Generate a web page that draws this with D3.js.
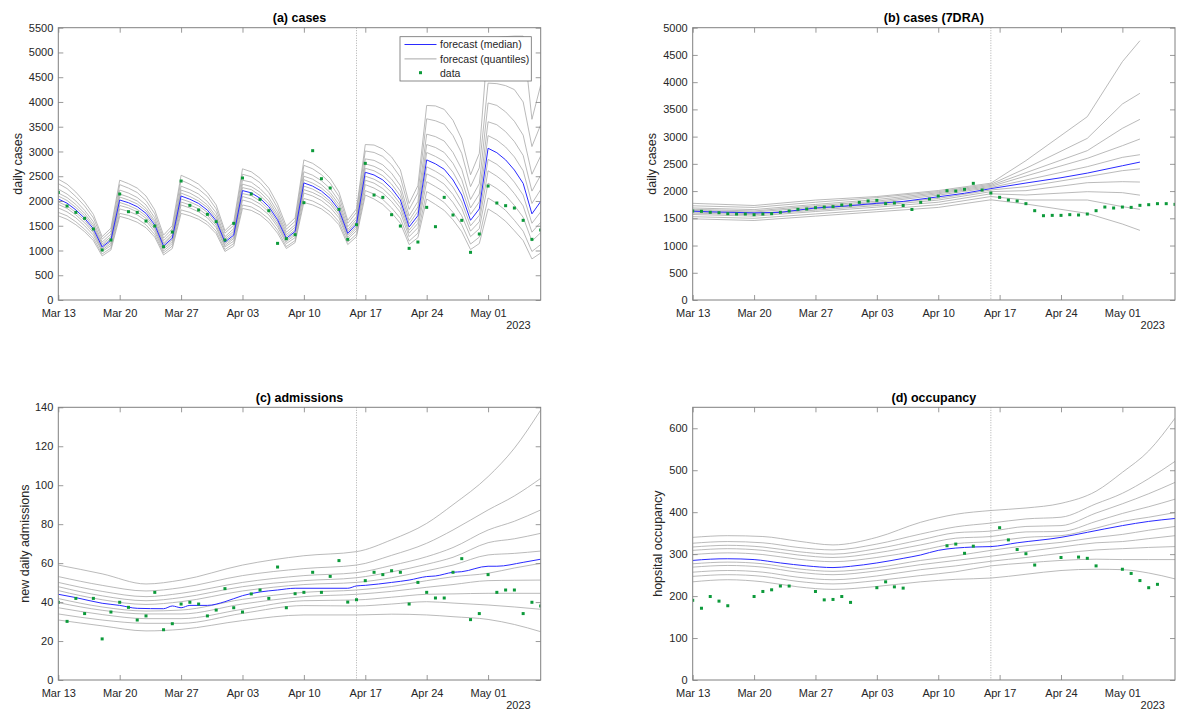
<!DOCTYPE html>
<html>
<head>
<meta charset="utf-8">
<script src="https://cdn.jsdelivr.net/npm/d3@7"></script>
<style>
  body { margin: 0; background: #fff; }
  text { font-family: "Liberation Sans", Arial, Helvetica, sans-serif; }
</style>
</head>
<body>
<svg id="fig" width="1182" height="711"></svg>
<script>
// ---- shared x axis: days since Mar 13 2023 ----
var lastDay = 55;
var forecastDay = 34;           // Apr 16, dotted line
var xTickDays = [0, 7, 14, 21, 28, 35, 42, 49];
var xTickLabels = ["Mar 13", "Mar 20", "Mar 27", "Apr 03", "Apr 10", "Apr 17", "Apr 24", "May 01"];
var allDays = d3.range(0, lastDay + 1);

// ---- (a) cases ----
var casesTicks = [0, 500, 1000, 1500, 2000, 2500, 3000, 3500, 4000, 4500, 5000, 5500];
var casesMedian = [2040,1955,1820,1650,1440,1070,1210, 2020,1965,1885,1750,1515,1090,1250,
  2100,2035,1950,1815,1600,1170,1310, 2210,2165,2055,1885,1620,1245,1385,
  2365,2300,2200,2050,1820,1345,1535, 2580,2525,2425,2255,2020,1475,1705,
  2830,2750,2640,2425,2120,1610,1840, 3065,2975,2830,2625,2355,1740,1990];
var casesData = [2174,1898,1770,1649,1434,1010,1212, 2141,1784,1770,1595,1494,1077,1373,
  2403,1912,1818,1730,1582,1212,1548, 2464,2141,2033,1804,1144,1239,1319,
  1966,3016,2450,2262,1831,1225,1521, 2760,2120,2073,1723,1494,1043,1171,
  1871,1481,2073,1717,1609,963,1333, 2302,1959,1905,1858,1609,1225,1414];
// one row per day, ten quantile lines (low -> high)
var casesQuantiles = [
  [1700,1770,1860,1930,1980,2100,2160,2240,2350,2440],
  [1630,1700,1780,1850,1900,2010,2070,2140,2250,2340],
  [1520,1580,1660,1720,1770,1870,1930,2000,2090,2180],
  [1380,1430,1500,1560,1610,1700,1750,1810,1900,1980],
  [1200,1250,1310,1360,1400,1480,1520,1580,1660,1730],
  [890,930,980,1010,1040,1100,1130,1170,1230,1280],
  [1010,1050,1100,1140,1180,1240,1280,1330,1390,1450],
  [1690,1750,1840,1910,1970,2080,2140,2220,2330,2420],
  [1640,1710,1790,1860,1910,2020,2080,2160,2260,2350],
  [1570,1640,1720,1780,1830,1940,2000,2070,2170,2260],
  [1460,1520,1600,1650,1700,1800,1850,1920,2010,2100],
  [1270,1320,1380,1430,1470,1560,1600,1660,1740,1820],
  [910,950,990,1030,1060,1120,1150,1200,1250,1310],
  [1040,1090,1140,1180,1220,1290,1320,1370,1440,1500],
  [1750,1820,1920,1980,2040,2160,2220,2300,2420,2520],
  [1700,1770,1860,1920,1980,2090,2160,2230,2340,2440],
  [1630,1690,1780,1840,1900,2000,2060,2140,2240,2340],
  [1520,1580,1660,1710,1770,1870,1920,1990,2090,2170],
  [1340,1390,1460,1510,1560,1640,1690,1760,1840,1920],
  [980,1020,1070,1100,1140,1200,1240,1280,1350,1400],
  [1090,1140,1190,1240,1270,1350,1390,1440,1510,1570],
  [1850,1920,2020,2090,2150,2270,2340,2420,2540,2650],
  [1810,1880,1970,2040,2110,2230,2290,2380,2490,2590],
  [1720,1780,1870,1940,2000,2110,2180,2250,2370,2460],
  [1570,1640,1720,1780,1830,1940,2000,2070,2170,2260],
  [1350,1410,1480,1530,1580,1670,1720,1780,1860,1940],
  [1040,1080,1140,1180,1210,1280,1320,1370,1430,1490],
  [1160,1200,1260,1310,1350,1420,1470,1520,1590,1660],
  [1970,2050,2160,2230,2300,2430,2500,2590,2720,2830],
  [1920,2000,2100,2170,2240,2360,2440,2520,2650,2760],
  [1840,1910,2010,2080,2140,2260,2330,2410,2530,2640],
  [1710,1780,1870,1940,1990,2110,2170,2250,2360,2460],
  [1520,1580,1660,1720,1770,1870,1930,2000,2090,2180],
  [1120,1170,1230,1270,1310,1380,1420,1480,1550,1610],
  [1280,1330,1400,1450,1490,1580,1630,1680,1770,1840],
  [2120,2210,2330,2420,2500,2660,2750,2850,3010,3140],
  [2040,2140,2260,2360,2440,2610,2700,2820,2980,3130],
  [1930,2030,2160,2250,2340,2510,2610,2730,2900,3050],
  [1760,1860,1990,2080,2170,2340,2440,2560,2730,2890],
  [1550,1650,1770,1860,1940,2100,2200,2310,2480,2630],
  [1120,1190,1280,1350,1410,1540,1610,1700,1830,1950],
  [1260,1350,1460,1550,1630,1790,1880,1990,2160,2310],
  [2040,2190,2390,2550,2690,2980,3140,3350,3660,3930],
  [1930,2090,2290,2460,2600,2900,3080,3300,3620,3920],
  [1810,1970,2180,2340,2490,2800,2980,3210,3550,3850],
  [1620,1770,1970,2130,2280,2580,2760,2980,3320,3630],
  [1380,1520,1700,1850,1980,2260,2430,2640,2960,3250],
  [1020,1130,1280,1390,1500,1730,1860,2030,2290,2530],
  [1140,1270,1440,1580,1710,1980,2140,2350,2670,2960],
  [1840,2060,2360,2610,2840,3320,3600,3980,4380,5250],
  [1730,1950,2250,2500,2740,3230,3540,3930,4370,5300],
  [1590,1810,2110,2360,2590,3090,3400,3800,4330,5320],
  [1400,1610,1910,2150,2380,2890,3200,3610,4250,5330],
  [1200,1390,1670,1900,2120,2610,2920,3330,4000,5330],
  [830,980,1190,1370,1550,1950,2200,2540,3100,3650],
  [950,1120,1360,1570,1780,2230,2520,2910,3540,4340]
];

// ---- (b) cases (7DRA) ----
var avgTicks = [0, 500, 1000, 1500, 2000, 2500, 3000, 3500, 4000, 4500, 5000];
var avgMedianDays = [0,3,7,10,14,17,21,24,28,31,34,38,42,45,49,51];
var avgMedian = [1630,1615,1600,1610,1690,1720,1775,1810,1895,1960,2045,2148,2245,2330,2465,2532];
var avgQuantileDays = [0,7,14,21,28,34,38,45,49,51];
var avgQuantiles = [
  [1490,1530,1570,1595,1615,1645,1665,1690,1730,1775],
  [1460,1500,1540,1565,1585,1615,1635,1660,1700,1735],
  [1540,1580,1625,1650,1675,1705,1730,1755,1795,1835],
  [1620,1660,1705,1735,1760,1790,1815,1845,1880,1900],
  [1700,1750,1795,1835,1865,1925,1950,1970,1990,2010],
  [1840,1900,1950,1990,2020,2065,2085,2105,2125,2145],
  [1763,1836,1928,2008,2081,2203,2277,2338,2418,2559],
  [1590,1836,1989,2154,2265,2448,2601,2742,2968,3366],
  [1395,1714,1971,2173,2375,2619,2833,3152,3599,4376],
  [1279,1665,1925,2166,2408,2668,2956,3317,3795,4761]
];
var avgData = [1634,1628,1610,1603,1585,1579,1579,1567,1579,1585,
  1610,1634,1665,1671,1695,1707,1714,1744,1744,1793,
  1818,1830,1769,1781,1735,1662,1793,1854,1909,2007,
  2001,2032,2142,2020,1964,1885,1836,1818,1769,1640,
  1548,1554,1554,1567,1561,1579,1640,1707,1689,1707,
  1701,1738,1750,1769,1769,1756];

// ---- (c) admissions ----
var admTicks = [0, 20, 40, 60, 80, 100, 120, 140];
var admMedianDays = [0,2,5,7,9,12,13,14,15,17,19,21,23,25,27,33,34,35,38,40,42,43,45,46,49,50,53,55];
var admMedian = [44.0,42.3,39.4,38.3,36.8,36.6,38.0,37.1,38.3,38.3,40.2,43.3,45.2,46.2,47.1,47.1,
  48.3,48.6,50.1,51.3,53.1,53.4,55.3,55.6,58.4,58.4,60.4,62.0];
var admQuantileDays = [0,5,10,14,21,28,34,38,42,45,49,52,55];
var admQuantiles = [
  [30.8,33.9,37.1,39.7,41.8,45.9,47.9,50.1,53.1,59.0],
  [27.8,30.8,33.6,35.8,37.5,41.2,43.2,45.5,48.6,54.5],
  [25.2,29.1,31.5,33.9,35.4,38.8,40.7,42.8,45.7,49.3],
  [26.0,29.1,31.5,33.9,35.9,40.2,42.3,44.5,47.4,51.3],
  [30.5,34.2,36.3,39.0,41.4,45.7,47.9,50.1,53.6,59.0],
  [33.4,38.2,40.7,42.8,45.0,49.0,51.0,53.6,57.2,63.8],
  [33.4,38.0,41.1,44.0,46.2,50.1,52.5,55.1,59.0,65.9],
  [33.8,39.0,42.5,45.5,48.0,52.5,55.5,58.8,64.0,72.0],
  [33.4,40.2,44.0,47.6,51.0,56.1,59.4,63.3,70.2,80.4],
  [32.5,39.5,44.2,49.0,53.0,59.0,63.0,68.0,77.0,90.0],
  [31.1,38.5,44.5,51.0,54.8,64.2,70.5,77.0,87.3,104.4],
  [28.5,37.5,44.5,51.2,57.5,65.0,72.5,81.5,94.5,119.0],
  [24.8,36.3,44.5,51.3,59.9,66.2,75.3,87.3,103.5,138.6]
];
var admData = [39.9,30.1,41.9,34.1,41.9,21.1,34.9, 39.9,37.3,30.8,32.9,45.0,25.8,28.9,
  39.0,39.9,39.0,32.9,35.9,46.9,37.1, 34.9,44.2,46.2,41.9,58.0,37.1,44.3,
  45.0,55.3,45.0,53.2,61.3,40.0,41.2, 51.0,55.3,54.1,56.1,55.3,39.0,50.1,
  45.0,42.1,42.1,55.3,62.3,31.0,34.1, 54.1,45.0,46.2,46.2,34.1,39.9,38.0];

// ---- (d) occupancy ----
var occTicks = [0, 100, 200, 300, 400, 500, 600];
var occMedianDays = [0,2,4,7,10,13,16,18,21,24,26,28,32,34,37,42,45,49,52,55];
var occMedian = [285,288,289,287,279,272,268,271,279,290,298,309,317,318,327,340,352,368,378,385];
var occQuantileDays = [0,4,8,12,16,21,26,30,34,38,42,46,49,52,55];
var occQuantiles = [
  [234,247,257,269,277,299,309,317,326,340],
  [239,251,261,273,281,303,313,321,330,344],
  [234,247,257,269,277,299,309,317,327,342],
  [222,235,245,257,265,288,298,306,316,331],
  [216,229,239,251,259,282,292,300,310,322],
  [223,237,248,260,268,292,303,313,324,340],
  [234,249,263,275,285,309,322,334,348,376],
  [240,258,272,285,296,325,338,351,365,395],
  [243,272,283,295,309,330,342,355,374,404],
  [252,279,292,306,320,340,353,366,384,410],
  [261,285,302,317,328,344,354,368,388,421],
  [264,288,310,327,340,362,378,398,420,450],
  [263,287,313,330,347,378,397,420,445,495],
  [255,287,316,337,357,388,413,444,480,546],
  [241,287,318,344,366,399,431,471,521,624]
];
var occData = [190,171,199,188,177,null,null, 199,211,215,224,224,null,null,
  211,191,192,199,185,null,null, 220,234,222,219,null,null,null,
  null,320,324,302,319,null,null, 363,334,311,301,274,null,null,
  292,null,293,290,272,null,null, 264,254,237,220,228,null,null];

var panels = [
  { id: "a", title: "(a) cases", ylabel: "daily cases", left: 58.3, top: 27.7, width: 482.4, height: 272.3,
    ymax: 5500, yticks: casesTicks, labelX: 17.5, curve: d3.curveLinear,
    medDays: allDays, med: casesMedian, qDays: allDays, q: casesQuantiles, data: casesData, legend: true },
  { id: "b", title: "(b) cases (7DRA)", ylabel: "daily cases", left: 692.7, top: 27.7, width: 482.3, height: 272.3,
    ymax: 5000, yticks: avgTicks, labelX: 651.7, curve: d3.curveLinear,
    medDays: avgMedianDays, med: avgMedian, qDays: avgQuantileDays, q: avgQuantiles, data: avgData },
  { id: "c", title: "(c) admissions", ylabel: "new daily admissions", left: 58.3, top: 407.3, width: 482.4, height: 272.7,
    ymax: 140, yticks: admTicks, labelX: 24.7, curve: d3.curveMonotoneX,
    medDays: admMedianDays, med: admMedian, qDays: admQuantileDays, q: admQuantiles, data: admData },
  { id: "d", title: "(d) occupancy", ylabel: "hopsital occupancy", left: 692.7, top: 407.3, width: 482.3, height: 272.7,
    ymax: 650, yticks: occTicks, labelX: 658, curve: d3.curveMonotoneX,
    medDays: occMedianDays, med: occMedian, qDays: occQuantileDays, q: occQuantiles, data: occData }
];

var svg = d3.select("#fig");
var axisColor = "#808080";
var textColor = "#262626";

function styleAxis(sel) {
  sel.select(".domain").remove();
  sel.selectAll(".tick line").attr("stroke", axisColor).attr("stroke-width", 0.8);
  sel.selectAll(".tick text").attr("fill", textColor).attr("font-size", 11)
    .attr("font-family", "'Liberation Sans', Arial, sans-serif");
}

panels.forEach(function(p) {
  var x = d3.scaleLinear().domain([0, lastDay]).range([p.left, p.left + p.width]);
  var y = d3.scaleLinear().domain([0, p.ymax]).range([p.top + p.height, p.top]);
  var bottom = p.top + p.height, right = p.left + p.width;

  svg.append("clipPath").attr("id", "clip-" + p.id)
    .append("rect").attr("x", p.left).attr("y", p.top).attr("width", p.width).attr("height", p.height);

  var plot = svg.append("g").attr("clip-path", "url(#clip-" + p.id + ")");

  plot.append("line")
    .attr("x1", x(forecastDay)).attr("x2", x(forecastDay))
    .attr("y1", p.top).attr("y2", bottom)
    .attr("stroke", "#9a9a9a").attr("stroke-width", 0.8).attr("stroke-dasharray", "1,1.5");

  var line = d3.line().x(d => x(d[0])).y(d => y(d[1])).curve(p.curve);

  for (var k = 0; k < 10; k++) {
    var pts = p.qDays.map((day, i) => [day, p.q[i][k]]);
    plot.append("path").attr("d", line(pts))
      .attr("fill", "none").attr("stroke", "#a8a8a8").attr("stroke-width", 0.8);
  }

  plot.append("path").attr("d", line(p.medDays.map((day, i) => [day, p.med[i]])))
    .attr("fill", "none").attr("stroke", "#2a2aff").attr("stroke-width", 1);

  plot.selectAll("rect.dot")
    .data(p.data.map((v, i) => [i, v]).filter(d => d[1] !== null))
    .enter().append("rect")
      .attr("class", "dot")
      .attr("x", d => x(d[0]) - 1.5)
      .attr("y", d => y(d[1]) - 1.5)
      .attr("width", 3).attr("height", 3)
      .attr("fill", "#0c9a3a");

  // axes, MATLAB style: inward ticks on all four sides
  svg.append("g").attr("transform", "translate(0," + bottom + ")")
    .call(d3.axisBottom(x).tickValues(xTickDays).tickFormat((d, i) => xTickLabels[i])
      .tickSize(-5).tickSizeOuter(0).tickPadding(9))
    .call(styleAxis);
  svg.append("g").attr("transform", "translate(0," + p.top + ")")
    .call(d3.axisTop(x).tickValues(xTickDays).tickFormat("").tickSize(-5).tickSizeOuter(0))
    .call(styleAxis);
  svg.append("g").attr("transform", "translate(" + p.left + ",0)")
    .call(d3.axisLeft(y).tickValues(p.yticks).tickFormat(d3.format("d"))
      .tickSize(-5).tickSizeOuter(0).tickPadding(5))
    .call(styleAxis);
  svg.append("g").attr("transform", "translate(" + right + ",0)")
    .call(d3.axisRight(y).tickValues(p.yticks).tickFormat("").tickSize(-5).tickSizeOuter(0))
    .call(styleAxis);

  svg.append("rect")
    .attr("x", p.left).attr("y", p.top).attr("width", p.width).attr("height", p.height)
    .attr("fill", "none").attr("stroke", axisColor).attr("stroke-width", 1);

  svg.append("text")
    .attr("x", (p.left + right) / 2).attr("y", p.top - 5.5)
    .attr("text-anchor", "middle").attr("font-weight", "bold").attr("font-size", 12.5)
    .attr("fill", "#000").text(p.title);

  svg.append("text")
    .attr("transform", "translate(" + p.labelX + "," + (p.top + p.height / 2) + ") rotate(-90)")
    .attr("text-anchor", "middle").attr("dominant-baseline", "central")
    .attr("font-size", 12.5).attr("fill", textColor).text(p.ylabel);

  svg.append("text")
    .attr("x", right - 10).attr("y", bottom + 29)
    .attr("text-anchor", "end").attr("font-size", 11).attr("fill", textColor).text("2023");

  if (p.legend) {
    var lg = svg.append("g").attr("transform", "translate(400,36.7)");
    lg.append("rect").attr("width", 131.3).attr("height", 44.3)
      .attr("fill", "#fff").attr("stroke", "#6e6e6e").attr("stroke-width", 0.8);
    var items = [
      { label: "forecast (median)", kind: "line", color: "#2a2aff", y: 7.8 },
      { label: "forecast (quantiles)", kind: "line", color: "#a8a8a8", y: 22.2 },
      { label: "data", kind: "dot", color: "#0c9a3a", y: 36 }
    ];
    items.forEach(function(it) {
      if (it.kind === "line") {
        lg.append("line").attr("x1", 4.5).attr("x2", 36.5).attr("y1", it.y).attr("y2", it.y)
          .attr("stroke", it.color).attr("stroke-width", 1);
      } else {
        lg.append("rect").attr("x", 19).attr("y", it.y - 1.5).attr("width", 3).attr("height", 3)
          .attr("fill", it.color);
      }
      lg.append("text").attr("x", 40).attr("y", it.y).attr("dominant-baseline", "central")
        .attr("font-size", 10.5).attr("fill", textColor).text(it.label);
    });
  }
});
</script>
</body>
</html>
